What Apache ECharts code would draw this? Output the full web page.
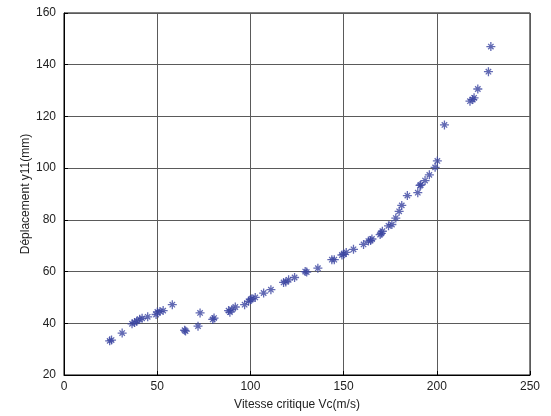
<!DOCTYPE html>
<html>
<head>
<meta charset="utf-8">
<script src="https://cdn.jsdelivr.net/npm/echarts@6/dist/echarts.min.js"></script>
<style>
html,body{margin:0;padding:0;background:#fff;}
#chart{width:551px;height:416px;}
</style>
</head>
<body>
<div id="chart"></div>
<script>
// Critical speed (m/s) vs displacement y11 (mm)
var vitesse = [24.5,25.5,31.2,36.5,37.9,39.0,40.6,41.9,44.9,49.4,50.1,51.5,53.2,58.1,
  64.7,65.2,71.9,73.0,79.8,80.5,88.3,89.0,90.1,91.9,96.9,99.0,100.2,100.8,102.6,107.1,
  111.0,117.8,119.0,120.5,123.7,129.4,130.2,136.2,143.7,145.0,149.1,150.0,151.4,155.3,
  160.7,163.3,164.5,165.2,169.6,170.2,170.8,174.1,175.9,178.0,179.8,181.2,184.2,189.8,
  191.0,191.4,193.7,196.0,199.1,200.3,204.1,217.8,219.3,220.0,222.0,227.7,229.0];
var deplacement = [33.2,33.5,36.2,39.8,40.3,40.8,41.6,41.9,42.5,43.4,44.4,44.6,44.9,47.2,
  37.3,37.0,38.9,44.0,41.5,42.0,44.9,44.3,45.3,46.3,47.2,48.5,49.2,49.5,50.0,51.7,
  53.0,55.8,56.0,56.8,57.7,60.0,59.8,61.3,64.6,64.6,66.4,66.7,67.4,68.6,
  70.5,71.8,72.0,72.6,74.3,74.8,75.6,77.7,78.2,80.7,83.3,85.6,89.4,90.5,
  93.3,93.5,95.2,97.4,100.3,102.8,116.7,125.9,126.5,127.2,130.6,137.3,147.0];
var xTicks = [0, 50, 100, 150, 200, 250];
var yTicks = [20, 40, 60, 80, 100, 120, 140, 160];

var points = vitesse.map(function (v, i) { return [v, deplacement[i]]; });
// asterisk marker: long vertical/horizontal arms, shorter diagonals
var asterisk = 'path://M0,-5L0,5M-5,0L5,0M-3,-3L3,3M-3,3L3,-3';
var font = 'Liberation Sans, Arial, sans-serif';

var chart = echarts.init(document.getElementById('chart'), null, {renderer: 'canvas'});
chart.setOption({
  animation: false,
  backgroundColor: '#fff',
  grid: {left: 64, right: 21, top: 13, bottom: 38, show: true,
         borderColor: '#000', borderWidth: 1, backgroundColor: 'transparent'},
  xAxis: {
    type: 'value', min: xTicks[0], max: xTicks[xTicks.length - 1], interval: 50,
    name: 'Vitesse critique Vc(m/s)', nameLocation: 'middle', nameGap: 24,
    nameMoveOverlap: false,
    nameTextStyle: {fontFamily: font, fontSize: 12, color: '#222'},
    axisLine: {show: true, lineStyle: {color: '#000', width: 1}},
    axisTick: {show: true, inside: true, length: 4, lineStyle: {color: '#000'}},
    axisLabel: {fontFamily: font, fontSize: 12, color: '#222', margin: 6},
    splitLine: {show: true, lineStyle: {color: '#5a5a5a', width: 1}}
  },
  yAxis: {
    type: 'value', min: yTicks[0], max: yTicks[yTicks.length - 1], interval: 20,
    name: 'Déplacement y11(mm)', nameLocation: 'middle', nameGap: 32,
    nameMoveOverlap: false,
    nameTextStyle: {fontFamily: font, fontSize: 12, color: '#222'},
    axisLine: {show: true, lineStyle: {color: '#000', width: 1}},
    axisTick: {show: true, inside: true, length: 4, lineStyle: {color: '#000'}},
    axisLabel: {fontFamily: font, fontSize: 12, color: '#222', margin: 8},
    splitLine: {show: true, lineStyle: {color: '#5a5a5a', width: 1}}
  },
  series: [{
    type: 'scatter',
    data: points,
    symbol: asterisk,
    symbolSize: 9,
    itemStyle: {color: 'transparent', borderColor: '#3a44a0', borderWidth: 1.3}
  }]
});
</script>
</body>
</html>
